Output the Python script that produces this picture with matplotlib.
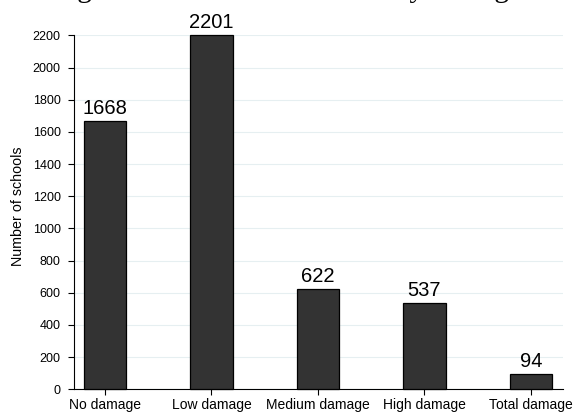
import matplotlib
matplotlib.use('Agg')
import matplotlib.pyplot as plt

# Schools counted per damage category
categories = ['No damage', 'Low damage', 'Medium damage', 'High damage', 'Total damage']
counts = [1668, 2201, 622, 537, 94]
yticks = list(range(0, 2201, 200))

plt.rcParams['font.family'] = ['Liberation Sans', 'DejaVu Sans']

fig = plt.figure(figsize=(5.75, 4.12), dpi=100)
ax = fig.add_axes([0.1287, 0.0551, 0.979 - 0.1287, 0.914 - 0.0551])

x = list(range(len(categories)))
bars = ax.bar(x, counts, width=0.4, color='#333333', edgecolor='black',
              linewidth=0.9, zorder=3, clip_on=False)

for xi, v in zip(x, counts):
    ax.annotate(str(v), xy=(xi, v), xytext=(0, 2), textcoords='offset points',
                ha='center', va='bottom', fontsize=14.5, annotation_clip=False)

ax.set_xlim(-0.29, 4.3)
ax.set_ylim(0, 2200)
ax.set_xticks(x)
ax.set_xticklabels(categories, fontsize=10)
ax.set_yticks(yticks)
ax.set_yticklabels([str(t) for t in yticks], fontsize=9)
ax.tick_params(axis='x', length=4, width=0.8, color='black', pad=2)
ax.tick_params(axis='y', length=4.5, width=0.8, color='black', pad=5)
ax.yaxis.grid(True, color='#e6eff1', linewidth=0.8, zorder=0)
ax.set_axisbelow(True)

for side in ('top', 'right'):
    ax.spines[side].set_visible(False)
for side in ('left', 'bottom'):
    ax.spines[side].set_linewidth(0.8)

# axis title placed in figure space
fig.text(18 / 575, 0.5, 'Number of schools', rotation=90,
         ha='center', va='center', fontsize=10.3)

# heading sits mostly above the canvas edge
fig.text(0.5, 1.008, 'Figure 2: Number of schools by damage', ha='center',
         va='baseline', fontsize=21, family='Liberation Serif')

fig.savefig('out.png', dpi=100)
